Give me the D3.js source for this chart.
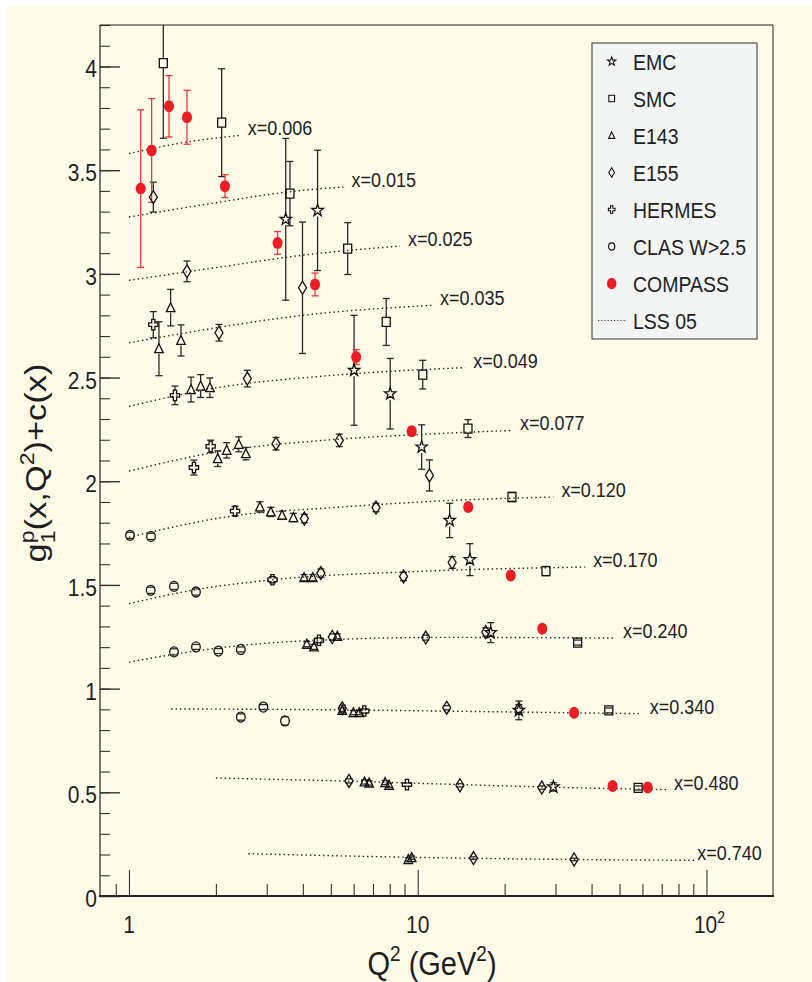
<!DOCTYPE html>
<html><head><meta charset="utf-8">
<script src="https://cdn.jsdelivr.net/npm/d3@7"></script>
<style>
html,body{margin:0;padding:0;background:#fff;}
svg{display:block;}
text{font-family:"Liberation Sans",Arial,Helvetica,sans-serif;fill:#1e1e1e;}
</style></head><body>
<svg id="c" width="812" height="982"></svg>
<script>
// ---------------- DATA ----------------
const xBins = ["0.006","0.015","0.025","0.035","0.049","0.077","0.120","0.170","0.240","0.340","0.480","0.740"];
// LSS 05 curves: [Q2, g1+c] points
const lssCurves = [
  [[1,3.58],[1.5,3.63],[2.42,3.668]],
  [[1,3.274],[2,3.343],[3.5,3.394],[5.53,3.419]],
  [[1,2.969],[2,3.03],[4,3.09],[8.68,3.134]],
  [[1,2.667],[2,2.74],[4,2.80],[11.2,2.848]],
  [[1,2.361],[2,2.45],[5,2.51],[14.6,2.548]],
  [[1,2.049],[2,2.14],[5,2.20],[10,2.225],[21.2,2.245]],
  [[1,1.73],[2.3,1.833],[5,1.872],[12,1.905],[29.5,1.924]],
  [[1,1.41],[1.7,1.477],[3,1.522],[10,1.565],[38,1.586]],
  [[1,1.128],[1.5,1.17],[2.4,1.207],[5,1.236],[12,1.247],[48.2,1.244]],
  [[1.4,0.902],[5,0.898],[15,0.89],[59.7,0.879]],
  [[2.0,0.569],[6,0.553],[15,0.536],[35,0.522],[72.4,0.513]],
  [[2.59,0.204],[10,0.186],[35,0.176],[91.5,0.172]]
];
// [Q2, g1+c, error]
const EMC = [[3.49,3.263,0.39],[4.50,3.306,0.29],[6.02,2.535,0.265],[8.03,2.422,0.17],[10.32,2.165,0.107],
  [12.9,1.811,0.083],[15.16,1.622,0.077],[17.9,1.270,0.048],[22.4,0.895,0.045],[29.5,0.526,0.02]];
const SMC = [[1.315,4.016,0.362],[2.094,3.729,0.26],[3.61,3.387,0.155],[5.72,3.122,0.125],[7.78,2.768,0.113],
  [10.41,2.514,0.069],[14.93,2.254,0.043],[21.2,1.924,0.022],[27.8,1.567,0.022],[35.8,1.222,0.012],
  [45.9,0.895,0.012],[58.0,0.521,0.01]];
const E143 = [[1.27,2.639,0.13],[1.394,2.837,0.088],[1.514,2.679,0.075],
  [1.640,2.442,0.06],[1.771,2.459,0.055],[1.907,2.451,0.047],
  [2.029,2.109,0.038],[2.18,2.149,0.037],[2.40,2.178,0.036],[2.54,2.133,0.03],
  [2.84,1.876,0.025],[3.10,1.852,0.022],[3.39,1.836,0.02],[3.71,1.825,0.02],
  [4.04,1.535,0.015],[4.33,1.535,0.015],
  [4.13,1.214,0.012],[4.37,1.201,0.012],[5.27,1.252,0.012],
  [5.48,0.895,0.012],[5.99,0.884,0.01],[6.27,0.884,0.01],
  [6.54,0.550,0.01],[6.79,0.545,0.01],[7.71,0.547,0.01],[7.96,0.534,0.01],
  [9.28,0.176,0.008],[9.53,0.185,0.008]];
const E155 = [[1.214,3.370,0.072],[1.588,3.012,0.05],[3.99,2.933,0.317],[2.05,2.716,0.04],[2.57,2.495,0.04],
  [3.23,2.181,0.03],[5.35,2.197,0.03],[10.98,2.028,0.075],[4.05,1.820,0.02],[7.17,1.873,0.02],
  [4.62,1.557,0.02],[8.93,1.541,0.02],[13.16,1.608,0.028],[5.06,1.249,0.015],[10.66,1.246,0.012],
  [17.2,1.273,0.02],[5.48,0.905,0.015],[12.6,0.908,0.01],[22.4,0.903,0.02],[5.78,0.555,0.01],
  [14.0,0.534,0.008],[26.9,0.523,0.008],[15.6,0.183,0.006],[34.8,0.176,0.006]];
const HERMES = [[1.214,2.755,0.063],[1.443,2.414,0.045],[1.679,2.066,0.036],[1.918,2.168,0.03],
  [2.33,1.856,0.022],[3.14,1.525,0.015],[4.55,1.233,0.012],[6.53,0.892,0.01],[9.18,0.537,0.008]];
const CLAS = [[1.008,1.739,0.015],[1.192,1.734,0.015],[1.189,1.474,0.015],[1.432,1.493,0.015],
  [1.706,1.466,0.015],[1.432,1.177,0.015],[1.706,1.201,0.012],[2.04,1.181,0.012],[2.44,1.189,0.012],
  [2.44,0.863,0.015],[2.92,0.911,0.012],[3.47,0.844,0.02]];
const COMPASS = [[1.098,3.411,0.38],[1.198,3.595,0.25],[1.376,3.808,0.148],[1.588,3.755,0.13],
  [2.15,3.423,0.055],[3.27,3.149,0.055],[4.41,2.949,0.055],[6.12,2.599,0.036],[9.53,2.241,0.02],
  [14.96,1.876,0.015],[21.0,1.546,0.012],[27.0,1.289,0.01],[34.8,0.884,0.01],[47.3,0.530,0.01],
  [62.6,0.523,0.01]];
const yMajorTicks = [0,0.5,1,1.5,2,2.5,3,3.5,4];
const yTickLabels = ["0","0.5","1","1.5","2","2.5","3","3.5","4"];
const xMajorTicks = [1,10,100];
const xMinorTicks = [0.9,2,3,4,5,6,7,8,9,20,30,40,50,60,70,80,90];
const legendLabels = ["EMC","SMC","E143","E155","HERMES","CLAS W>2.5","COMPASS","LSS 05"];

// ---------------- LAYOUT ----------------
const L=100,R=773,T=25,B=896;
const svg=d3.select("#c");
svg.append("rect").attr("x",6).attr("y",6).attr("width",806).attr("height",976).attr("fill","#fefbe9");
const x=d3.scaleLog().domain([0.8,170]).range([101,R]);
const y=d3.scaleLinear().domain([0,4.2]).range([B,T]);
const INK="#222";
const SY=1.15;
function txt(g,tx,ty,s,size,anchor){
  return g.append("text").attr("transform",`translate(${tx},${ty}) scale(1,${SY})`)
    .attr("font-size",size).attr("text-anchor",anchor||"start").text(s);
}

svg.append("clipPath").attr("id","clip").append("rect").attr("x",L).attr("y",T).attr("width",R-L).attr("height",B-T);

// axes ticks via d3 axes
const yMinorVals=d3.range(0,43).map(i=>i/10);
const gy1=svg.append("g").attr("transform",`translate(${L},0)`).call(d3.axisRight(y).tickValues(yMinorVals).tickSize(10).tickFormat(""));
const gy2=svg.append("g").attr("transform",`translate(${L},0)`).call(d3.axisRight(y).tickValues(yMajorTicks).tickSize(20).tickFormat(""));
const gx1=svg.append("g").attr("transform",`translate(0,${B})`).call(d3.axisTop(x).tickValues(xMinorTicks).tickSize(12).tickFormat(""));
const gx2=svg.append("g").attr("transform",`translate(0,${B})`).call(d3.axisTop(x).tickValues(xMajorTicks).tickSize(26).tickFormat(""));
[gy1,gy2,gx1,gx2].forEach(g=>{g.select(".domain").remove();g.selectAll(".tick line").attr("stroke","#333").attr("stroke-width",1.1);});
gy2.selectAll(".tick line").attr("stroke-width",1.4);

// frame
svg.append("line").attr("x1",L).attr("x2",R).attr("y1",T).attr("y2",T).attr("stroke",INK).attr("stroke-width",1);
svg.append("line").attr("x1",R).attr("x2",R).attr("y1",T).attr("y2",B).attr("stroke",INK).attr("stroke-width",1);
svg.append("line").attr("x1",L).attr("x2",L).attr("y1",T).attr("y2",B).attr("stroke",INK).attr("stroke-width",1.2);
svg.append("line").attr("x1",L-1).attr("x2",R+1).attr("y1",B).attr("y2",B).attr("stroke",INK).attr("stroke-width",2);

// tick labels
yMajorTicks.forEach((v,i)=>txt(svg,97,y(v)+11,yTickLabels[i],21,"end"));
txt(svg,x(1),933,"1",21,"middle");
txt(svg,x(10),933,"10",21,"middle");
const t100=txt(svg,x(100)+3,933,"10",21,"middle");
t100.append("tspan").attr("font-size",14).attr("dy",-9).text("2");

// axis titles
const xt=svg.append("text").attr("transform",`translate(432,975) scale(1,${SY})`).attr("font-size",29).attr("text-anchor","middle");
xt.append("tspan").text("Q");
xt.append("tspan").attr("font-size",19).attr("dy",-12).text("2");
xt.append("tspan").attr("dy",12).text(" (GeV");
xt.append("tspan").attr("font-size",19).attr("dy",-12).text("2");
xt.append("tspan").attr("dy",12).text(")");

const yt=svg.append("text").attr("transform",`translate(46,463) rotate(-90) scale(${SY},1)`).attr("font-size",30).attr("text-anchor","middle");
yt.append("tspan").text("g");
yt.append("tspan").attr("font-size",20).attr("dy",-12).text("p");
yt.append("tspan").attr("font-size",20).attr("dx",-11).attr("dy",21).text("1");
yt.append("tspan").attr("dy",-9).text("(x,Q");
yt.append("tspan").attr("font-size",20).attr("dy",-12).text("2");
yt.append("tspan").attr("dy",12).text(")+c(x)");

// ---------------- plot content ----------------
const plot=svg.append("g").attr("clip-path","url(#clip)");
const line=d3.line().x(d=>x(d[0])).y(d=>y(d[1])).curve(d3.curveMonotoneX);
lssCurves.forEach((c,i)=>{
  plot.append("path").attr("d",line(c)).attr("fill","none").attr("stroke","#1e1e1e").attr("stroke-width",1.4).attr("stroke-dasharray","1.4,3");
  const last=c[c.length-1];
  const dx = i===lssCurves.length-1 ? 2 : 8;
  txt(svg,x(last[0])+dx,y(last[1]),"x="+xBins[i],18,"start");
});

// marker shapes
const shapes={
  star:{hh:6,path:(cx,cy,s)=>{let p=[];for(let k=0;k<10;k++){const r=(k%2?2.4:6)*s;const a=-Math.PI/2+k*Math.PI/5;p.push([cx+r*Math.cos(a),cy+r*Math.sin(a)*1.05]);}return "M"+p.map(q=>q.join(",")).join("L")+"Z";}},
  square:{hh:4.5,path:(cx,cy,s)=>{const w=4*s,h=4.5*s;return `M${cx-w},${cy-h}H${cx+w}V${cy+h}H${cx-w}Z`;}},
  tri:{hh:5,path:(cx,cy,s)=>`M${cx},${cy-5*s}L${cx+4.3*s},${cy+4*s}L${cx-4.3*s},${cy+4*s}Z`},
  diamond:{hh:6.5,path:(cx,cy,s)=>`M${cx},${cy-6.5*s}L${cx+4*s},${cy}L${cx},${cy+6.5*s}L${cx-4*s},${cy}Z`},
  cross:{hh:5,path:(cx,cy,s)=>{const a=1.6*s,av=1.8*s,Lh=4.6*s,Lv=5.2*s;
    return `M${cx-a},${cy-Lv}H${cx+a}V${cy-av}H${cx+Lh}V${cy+av}H${cx+a}V${cy+Lv}H${cx-a}V${cy+av}H${cx-Lh}V${cy-av}H${cx-a}Z`;}},
  circle:{hh:5,path:(cx,cy,s)=>{const rx=4.3*s,ry=5*s;return `M${cx-rx},${cy}A${rx},${ry} 0 1,0 ${cx+rx},${cy}A${rx},${ry} 0 1,0 ${cx-rx},${cy}Z`;}},
  dot:{hh:6,path:(cx,cy,s)=>{const rx=5*s,ry=6*s;return `M${cx-rx},${cy}A${rx},${ry} 0 1,0 ${cx+rx},${cy}A${rx},${ry} 0 1,0 ${cx-rx},${cy}Z`;}}
};
const series=[
  {data:EMC,shape:"star",fill:"none",col:"#111",ecol:"#2a2a2a"},
  {data:SMC,shape:"square",fill:"none",col:"#111",ecol:"#2a2a2a"},
  {data:E143,shape:"tri",fill:"none",col:"#111",ecol:"#2a2a2a"},
  {data:E155,shape:"diamond",fill:"none",col:"#111",ecol:"#2a2a2a"},
  {data:HERMES,shape:"cross",fill:"none",col:"#111",ecol:"#2a2a2a"},
  {data:CLAS,shape:"circle",fill:"none",col:"#111",ecol:"#2a2a2a"},
  {data:COMPASS,shape:"dot",fill:"#ec1c24",col:"none",ecol:"#e8383e"}
];
// error bars
series.forEach(sr=>{
  const hh=shapes[sr.shape].hh;
  sr.data.forEach(d=>{
    const cx=x(d[0]),cy=y(d[1]),yt=y(d[1]+d[2]),yb=y(d[1]-d[2]);
    const g=plot.append("g").attr("stroke",sr.ecol).attr("stroke-width",1.3);
    if(yt<cy-hh) g.append("line").attr("x1",cx).attr("x2",cx).attr("y1",yt).attr("y2",cy-hh);
    if(yb>cy+hh) g.append("line").attr("x1",cx).attr("x2",cx).attr("y1",cy+hh).attr("y2",yb);
    g.append("line").attr("x1",cx-3.5).attr("x2",cx+3.5).attr("y1",yt).attr("y2",yt);
    g.append("line").attr("x1",cx-3.5).attr("x2",cx+3.5).attr("y1",yb).attr("y2",yb);
  });
});
series.forEach(sr=>{
  sr.data.forEach(d=>{
    plot.append("path").attr("d",shapes[sr.shape].path(x(d[0]),y(d[1]),1))
      .attr("fill",sr.fill).attr("stroke",sr.col).attr("stroke-width",1.3);
  });
});

// ---------------- legend ----------------
const lg=svg.append("g");
lg.append("rect").attr("x",592).attr("y",43).attr("width",165).attr("height",296).attr("fill","#f3f4f4").attr("stroke","#333").attr("stroke-width",1);
legendLabels.forEach((lab,i)=>{
  const cy=61.5+i*37;
  if(i<series.length){
    const sr=series[i];
    const sc=sr.shape==="dot"?0.95:0.72;
    lg.append("path").attr("d",shapes[sr.shape].path(611.7,cy,sc)).attr("fill",sr.fill).attr("stroke",sr.col).attr("stroke-width",1.1);
  } else {
    lg.append("line").attr("x1",598).attr("x2",627).attr("y1",cy).attr("y2",cy).attr("stroke","#333").attr("stroke-width",1.1).attr("stroke-dasharray","1.2,2");
  }
  txt(lg,633,cy+8,lab,19.5,"start");
});
</script>
</body></html>
